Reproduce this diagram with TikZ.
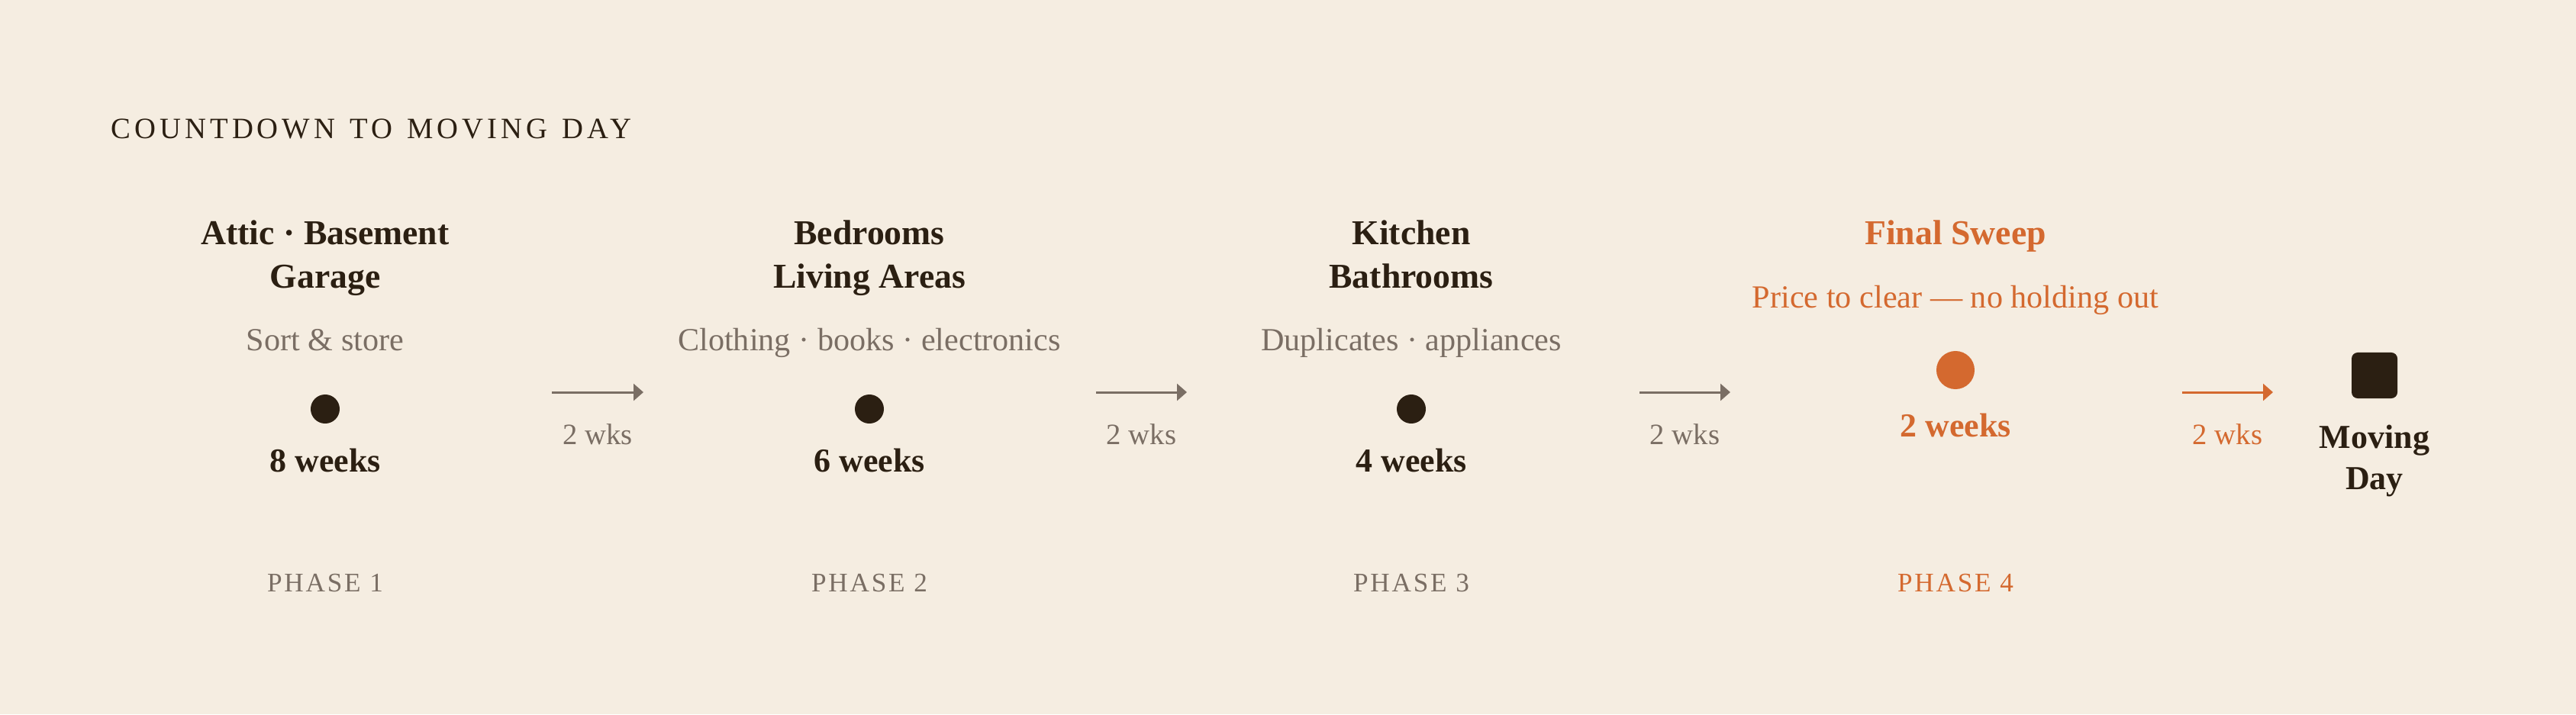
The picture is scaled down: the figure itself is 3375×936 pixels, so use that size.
\documentclass[tikz,border=0pt]{standalone}
\usepackage{fontspec}
\setmainfont{Liberation Serif}
\newfontfamily\titlefont[LetterSpace=13, WordSpace=1.3]{Liberation Serif}
\newfontfamily\phasefont[LetterSpace=8]{Liberation Serif}
\usetikzlibrary{arrows.meta}
\definecolor{paper}{HTML}{F5EDE1}
\definecolor{ink}{HTML}{2B1F12}
\definecolor{muted}{HTML}{7A6E64}
\definecolor{rust}{HTML}{D4692F}

\begin{document}
\begin{tikzpicture}[x=0.01cm, y=-0.01cm,
    every node/.style={inner sep=0pt, anchor=base},
    heading/.style={font=\fontsize{13}{15}\selectfont\bfseries, text=ink},
    sub/.style={font=\fontsize{12}{14}\selectfont, text=muted},
    weeks/.style={font=\fontsize{12.5}{15}\selectfont\bfseries, text=ink},
    phase/.style={font=\phasefont\fontsize{10}{12}\selectfont, text=muted},
    gap/.style={font=\fontsize{11}{13}\selectfont, text=muted, yshift=-0.68cm},
    dot/.style={circle, fill=ink, minimum size=0.38cm, anchor=center},
    link/.style={draw=muted, line width=0.85pt, -{Triangle[length=0.13cm, width=0.22cm]}}]

    \fill[paper] (0,0) rectangle (3375,936);

    \node[font=\titlefont\fontsize{11}{14}\selectfont, text=ink, anchor=base west] (title) at (145,181) {COUNTDOWN TO MOVING DAY};

    % phase 1
    \node[heading] (attic) at (426,320) {Attic · Basement};
    \node[heading] (garage) at (426,377) {Garage};
    \node[sub] (sort) at (426,459) {Sort \& store};
    \node[dot] (d1) at (426,536) {};
    \node[weeks] (w8) at (426,618) {8 weeks};
    \node[phase] (ph1) at (426,775) {PHASE 1};

    % phase 2
    \node[heading] (bedrooms) at (1139,320) {Bedrooms};
    \node[heading] (living) at (1139,377) {Living Areas};
    \node[sub] (clothing) at (1139,459) {Clothing · books · electronics};
    \node[dot] (d2) at (1139,536) {};
    \node[weeks] (w6) at (1139,618) {6 weeks};
    \node[phase] (ph2) at (1139,775) {PHASE 2};

    % phase 3
    \node[heading] (kitchen) at (1849,320) {Kitchen};
    \node[heading] (bath) at (1849,377) {Bathrooms};
    \node[sub] (dupes) at (1849,459) {Duplicates · appliances};
    \node[dot] (d3) at (1849,536) {};
    \node[weeks] (w4) at (1849,618) {4 weeks};
    \node[phase] (ph3) at (1849,775) {PHASE 3};

    % phase 4
    \node[heading, text=rust] (sweep) at (2562,320) {Final Sweep};
    \node[sub, text=rust] (price) at (2562,403) {Price to clear — no holding out};
    \node[dot, fill=rust, minimum size=0.5cm] (d4) at (2562,485) {};
    \node[weeks, text=rust] (w2) at (2562,572) {2 weeks};
    \node[phase, text=rust] (ph4) at (2562,775) {PHASE 4};

    % moving day
    \node[fill=ink, rounded corners=0.08cm, minimum size=0.6cm, anchor=center] (goal) at (3111,492) {};
    \node[weeks] (moving) at (3111,587) {Moving};
    \node[weeks] (day) at (3111,641) {Day};

    \coordinate (a1s) at (723,514);  \coordinate (a1e) at (843,514);
    \coordinate (a2s) at (1436,514); \coordinate (a2e) at (1555,514);
    \coordinate (a3s) at (2148,514); \coordinate (a3e) at (2267,514);
    \coordinate (a4s) at (2859,514); \coordinate (a4e) at (2978,514);

    \path (a1s) edge[link] node[gap] {2 wks} (a1e);
    \path (a2s) edge[link] node[gap] {2 wks} (a2e);
    \path (a3s) edge[link] node[gap] {2 wks} (a3e);
    \path (a4s) edge[link, draw=rust] node[gap, text=rust] {2 wks} (a4e);
\end{tikzpicture}
\end{document}
